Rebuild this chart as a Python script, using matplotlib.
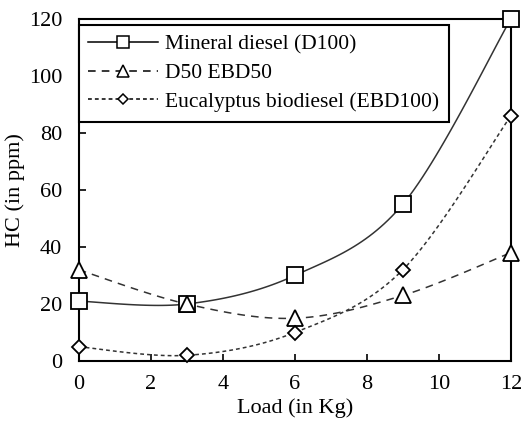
import numpy as np
import matplotlib
matplotlib.use("Agg")
import matplotlib.pyplot as plt

plt.rcParams['font.family'] = ['Liberation Serif', 'DejaVu Serif']

# data
load = [0, 3, 6, 9, 12]
hc_d100 = [21, 20, 30, 55, 120]
hc_d50 = [32, 20, 15, 23, 38]
hc_ebd100 = [5, 2, 10, 32, 86]


def smooth(x, y, n=30):
    # excel-style smoothed line (bezier through the points)
    x = np.asarray(x, float)
    y = np.asarray(y, float)
    px = np.concatenate([[x[0]], x, [x[-1]]])
    py = np.concatenate([[y[0]], y, [y[-1]]])
    xs, ys = [], []
    t = np.linspace(0, 1, n)
    for i in range(len(x) - 1):
        p0x, p0y = px[i + 1], py[i + 1]
        p3x, p3y = px[i + 2], py[i + 2]
        c1x = p0x + (px[i + 2] - px[i]) / 6
        c1y = p0y + (py[i + 2] - py[i]) / 6
        c2x = p3x - (px[i + 3] - px[i + 1]) / 6
        c2y = p3y - (py[i + 3] - py[i + 1]) / 6
        bx = (1 - t)**3 * p0x + 3 * (1 - t)**2 * t * c1x + 3 * (1 - t) * t**2 * c2x + t**3 * p3x
        by = (1 - t)**3 * p0y + 3 * (1 - t)**2 * t * c1y + 3 * (1 - t) * t**2 * c2y + t**3 * p3y
        xs.extend(bx)
        ys.extend(by)
    return xs, ys


fig = plt.figure(figsize=(5.25, 4.21), dpi=100)
ax = fig.add_axes([0.150, 0.1425, 0.823, 0.8125])

series = [
    (hc_d100, 's', '-', 12, 'Mineral diesel (D100)'),
    (hc_d50, '^', (0, (5, 4)), 12, 'D50 EBD50'),
    (hc_ebd100, 'D', (0, (2.5, 2)), 7.5, 'Eucalyptus biodiesel (EBD100)'),
]
handles = []
for vals, mk, ls, ms, name in series:
    sx, sy = smooth(load, vals)
    ax.plot(sx, sy, color='#333333', lw=1.1, ls=ls, zorder=2)
    ax.plot(load, vals, ls='none', marker=mk, ms=ms, mfc='white', mec='black',
            mew=1.3, zorder=3, clip_on=False)
    h, = ax.plot([], [], color='black', lw=1.1, ls=ls, marker=mk,
                 ms=ms * 0.7, mfc='white', mec='black', mew=1.1)
    handles.append((h, name))

ax.set_xlim(0, 12)
ax.set_ylim(0, 120)
ax.set_xticks(range(0, 13, 2))
ax.set_yticks(range(0, 121, 20))
ax.tick_params(direction='in', length=5, width=1.2, labelsize=16)
ax.tick_params(axis='x', pad=10)
ax.tick_params(axis='y', pad=12)
for s in ax.spines.values():
    s.set_linewidth(1.5)

ax.set_xlabel('Load (in Kg)', fontsize=16, labelpad=3)
ax.set_ylabel('HC (in ppm)', fontsize=16, labelpad=3)

leg = ax.legend([h for h, _ in handles], [n for _, n in handles],
                loc='upper left', bbox_to_anchor=(0.0, 0.983), fontsize=15.5,
                handlelength=3.25, handletextpad=0.3, borderpad=0.45,
                labelspacing=0.4, fancybox=False, framealpha=1,
                edgecolor='black', borderaxespad=0)
leg.get_frame().set_linewidth(1.5)

fig.savefig('out.png', dpi=100)
